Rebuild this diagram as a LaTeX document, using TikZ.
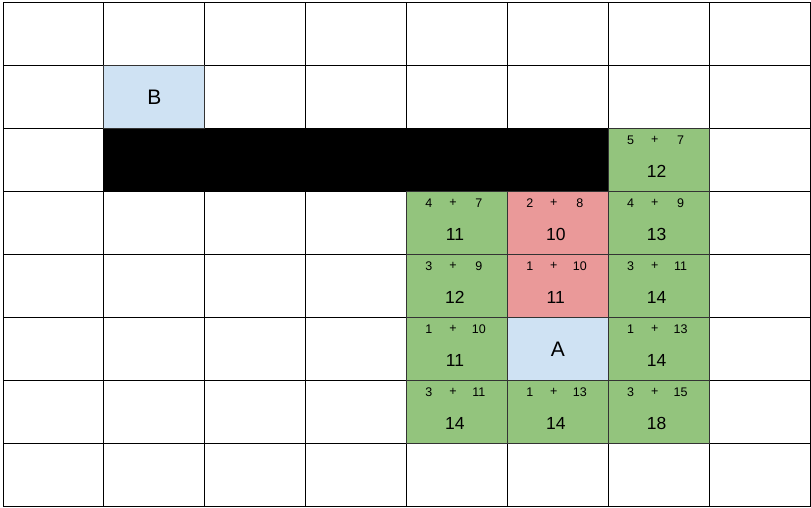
\documentclass[tikz,border=0pt]{standalone}
\usepackage{fontspec}
\setmainfont{Liberation Sans}
\definecolor{cgreen}{HTML}{93C47D}
\definecolor{cred}{HTML}{EA9999}
\definecolor{cblue}{HTML}{CFE2F3}
\begin{document}
\begin{tikzpicture}[x=1pt,y=-1pt,
  cell/.style={draw=black,line width=0.9pt,minimum width=100.875pt,minimum height=63pt,inner sep=0pt,outer sep=0pt},
  colcell/.style={cell,draw=black!80},
  small/.style={font=\fontsize{12.5}{14}\selectfont,inner sep=0pt},
  big/.style={font=\fontsize{17.5}{20}\selectfont,inner sep=0pt},
  letter/.style={font=\fontsize{21}{24}\selectfont,inner sep=0pt}]
\useasboundingbox (0,0) rectangle (811,507);
% plain grid
\foreach \c in {0,...,7}{
  \foreach \r in {0,...,7}{
    \node[cell] (c-\c-\r) at ({3+100.875*(\c+0.5)},{2.5+63*(\r+0.5)}) {};
  }
}
% wall
\node[cell,fill=black,minimum width=504.375pt] (wall) at ({3+100.875*3.5},{2.5+63*2.5}) {};
% start / goal
\node[colcell,fill=cblue,letter] (cellB) at ({3+100.875*1.5},{2.5+63*1.5}) {B};
\node[colcell,fill=cblue,letter] (cellA) at ({3+100.875*5.5},{2.5+63*5.5}) {A};
% scored cells
\foreach \c/\r/\a/\b/\s/\f in {6/2/5/7/12/cgreen, 4/3/4/7/11/cgreen, 5/3/2/8/10/cred, 6/3/4/9/13/cgreen,
  4/4/3/9/12/cgreen, 5/4/1/10/11/cred, 6/4/3/11/14/cgreen, 4/5/1/10/11/cgreen, 6/5/1/13/14/cgreen,
  4/6/3/11/14/cgreen, 5/6/1/13/14/cgreen, 6/6/3/15/18/cgreen}{
  \node[colcell,fill=\f] (s-\c-\r) at ({3+100.875*(\c+0.5)},{2.5+63*(\r+0.5)}) {};
  \node[small] (g-\c-\r) at ([xshift=-28pt,yshift=19.8pt]s-\c-\r.center) {\a};
  \node[small] (p-\c-\r) at ([xshift=-4pt,yshift=19.8pt]s-\c-\r.center) {+};
  \node[small] (h-\c-\r) at ([xshift=22pt,yshift=19.8pt]s-\c-\r.center) {\b};
  \node[big] (f-\c-\r) at ([xshift=-2pt,yshift=-11.2pt]s-\c-\r.center) {\s};
}
\end{tikzpicture}
\end{document}
